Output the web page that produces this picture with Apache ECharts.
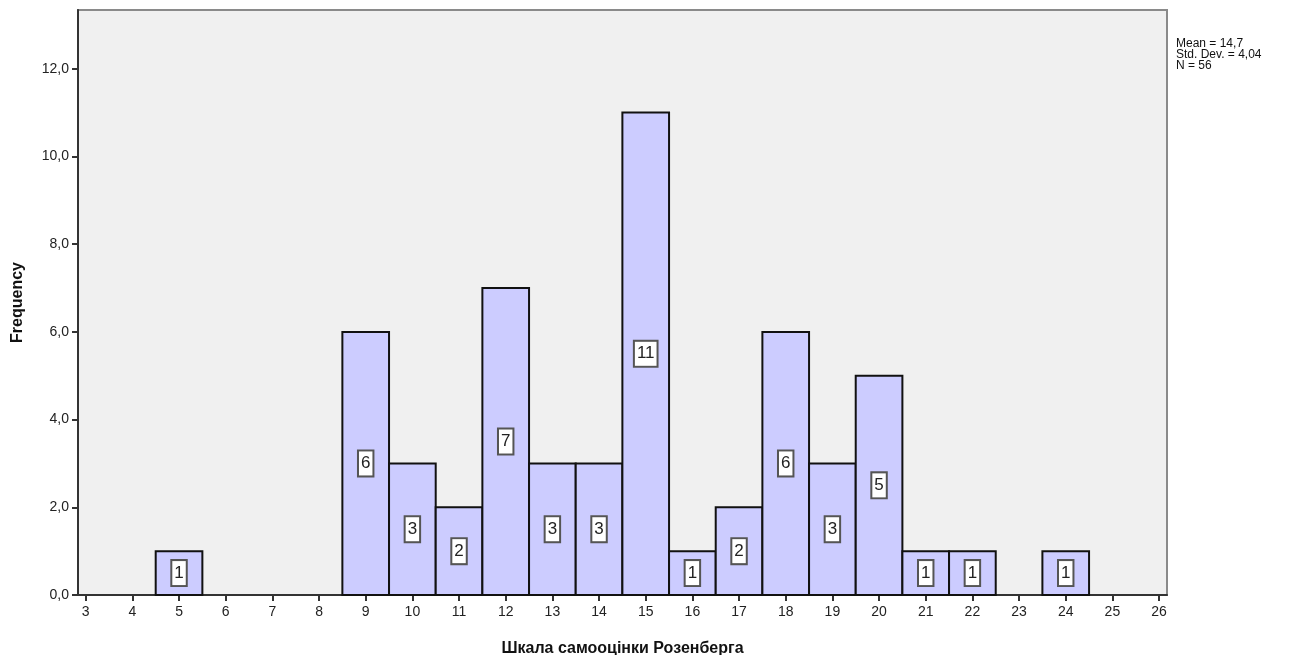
<!DOCTYPE html>
<html>
<head>
<meta charset="utf-8">
<script src="https://cdn.jsdelivr.net/npm/echarts@6/dist/echarts.min.js"></script>
<style>
  html, body { margin: 0; padding: 0; background: #fff; }
  #chart { width: 1291px; height: 655px; }
</style>
</head>
<body>
<div id="chart"></div>
<script>
// histogram bins (score -> count)
const scores = [5, 9, 10, 11, 12, 13, 14, 15, 16, 17, 18, 19, 20, 21, 22, 24];
const counts = [1, 6, 3, 2, 7, 3, 3, 11, 1, 2, 6, 3, 5, 1, 1, 1];
const xTicks = [3, 4, 5, 6, 7, 8, 9, 10, 11, 12, 13, 14, 15, 16, 17, 18, 19, 20, 21, 22, 23, 24, 25, 26];
const yTicks = [0, 2, 4, 6, 8, 10, 12];
const statsText = ['Mean = 14,7', 'Std. Dev. = 4,04', 'N = 56'];

const chart = echarts.init(document.getElementById('chart'));
const font = 'Liberation Sans, Arial, sans-serif';

const option = {
  animation: false,
  grid: {
    left: 78, top: 10, right: 124, bottom: 60,
    outerBoundsMode: 'none',
    show: true, backgroundColor: '#f0f0f0', borderColor: '#8a8a8a', borderWidth: 2
  },
  xAxis: {
    type: 'value',
    min: 2.835, max: 26.17,
    name: 'Шкала самооцінки Розенберга',
    nameLocation: 'middle',
    nameGap: 46,
    nameTextStyle: { fontFamily: font, fontSize: 16, fontWeight: 'bold', color: '#111' },
    axisLine: { onZero: false, lineStyle: { color: '#333', width: 2 } },
    axisTick: { customValues: xTicks, length: 6, lineStyle: { color: '#333', width: 2 } },
    axisLabel: { customValues: xTicks, fontFamily: font, fontSize: 14, color: '#222', margin: 10 },
    splitLine: { show: false }
  },
  yAxis: {
    type: 'value',
    min: 0, max: 13.34,
    name: 'Frequency',
    nameLocation: 'middle',
    nameGap: 52,
    nameTextStyle: { fontFamily: font, fontSize: 16, fontWeight: 'bold', color: '#111' },
    axisLine: { show: true, lineStyle: { color: '#333', width: 2 } },
    axisTick: { customValues: yTicks, length: 6, lineStyle: { color: '#333', width: 2 } },
    axisLabel: {
      customValues: yTicks, fontFamily: font, fontSize: 14, color: '#222', margin: 9,
      formatter: v => v.toFixed(1).replace('.', ',')
    },
    splitLine: { show: false }
  },
  graphic: [{
    type: 'text',
    left: 1176, top: 38,
    style: { text: statsText.join('\n'), font: '12px ' + font, fill: '#111', lineHeight: 11 }
  }],
  series: [{
    type: 'custom',
    data: scores.map((s, i) => [s, counts[i]]),
    renderItem: (params, api) => {
      const x = api.value(0);
      const y = api.value(1);
      const p0 = api.coord([x - 0.5, y]);
      const p1 = api.coord([x + 0.5, 0]);
      const mid = api.coord([x, y / 2]);
      return {
        type: 'group',
        children: [
          {
            type: 'rect',
            shape: { x: p0[0], y: p0[1], width: p1[0] - p0[0], height: p1[1] - p0[1] },
            style: { fill: '#ccccff', stroke: '#111', lineWidth: 2 }
          },
          {
            type: 'text',
            x: mid[0], y: mid[1],
            style: {
              text: String(y), align: 'center', verticalAlign: 'middle',
              font: '17px ' + font, fill: '#222',
              backgroundColor: '#fff', borderColor: '#555', borderWidth: 2,
              padding: [4, 2, 3, 2]
            }
          }
        ]
      };
    }
  }]
};

chart.setOption(option);
</script>
</body>
</html>
